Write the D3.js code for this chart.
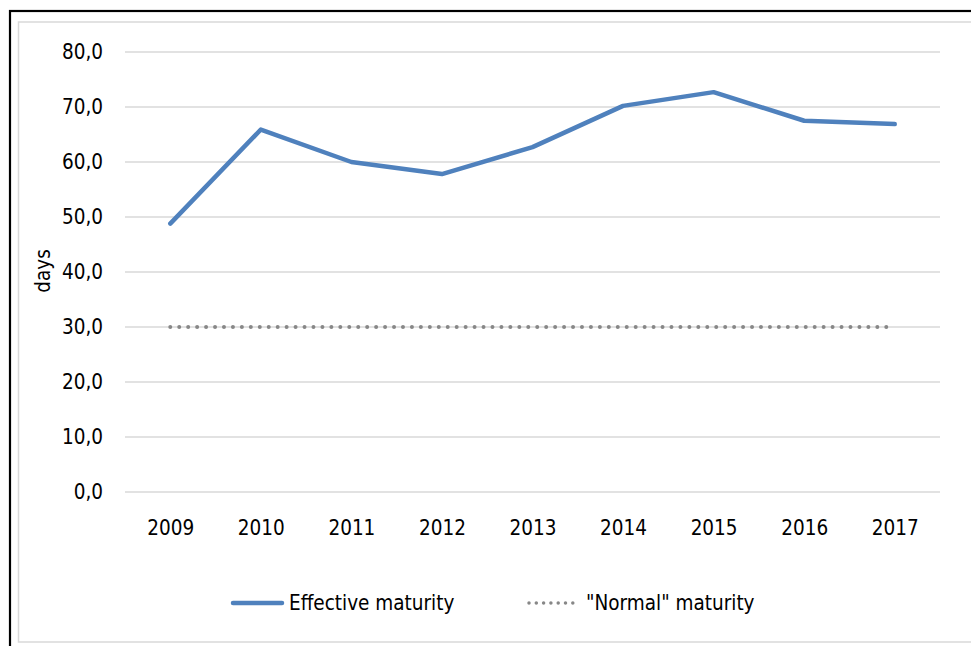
<!DOCTYPE html>
<html lang="en">
<head>
    <meta charset="UTF-8">
    <title>Effective maturity</title>
    <script src="https://cdn.jsdelivr.net/npm/d3@7"></script>
    <style>
        body { margin: 0; background: #fff; }
        svg text {
            font-family: "Liberation Sans Narrow", "DejaVu Sans Condensed", sans-serif;
            fill: #000;
        }
    </style>
</head>
<body>
    <svg id="chart" width="971" height="646"></svg>

    <script>
        // data
        const years = ['2009', '2010', '2011', '2012', '2013', '2014', '2015', '2016', '2017'];
        const effective = [48.8, 65.9, 60.0, 57.8, 62.7, 70.2, 72.7, 67.5, 66.9];
        const normal = [30, 30, 30, 30, 30, 30, 30, 30, 30];
        const yTicks = [0, 10, 20, 30, 40, 50, 60, 70, 80];

        const svg = d3.select('#chart');
        const fontSize = 20.5;

        // outer frames
        svg.append('rect')
            .attr('x', 10).attr('y', 11)
            .attr('width', 1000).attr('height', 1000)
            .attr('fill', 'none')
            .attr('stroke', '#000')
            .attr('stroke-width', 2.2);
        svg.append('rect')
            .attr('x', 18.5).attr('y', 22)
            .attr('width', 1000).attr('height', 620)
            .attr('fill', 'none')
            .attr('stroke', '#d9d9d9')
            .attr('stroke-width', 1.5);

        const x = d3.scalePoint()
            .domain(years)
            .range([125, 940])
            .padding(0.5);

        const y = d3.scaleLinear()
            .domain([0, 80])
            .range([492, 52]);

        // gridlines
        svg.append('g')
            .selectAll('line')
            .data(yTicks)
            .join('line')
            .attr('x1', 125).attr('x2', 940)
            .attr('y1', d => y(d)).attr('y2', d => y(d))
            .attr('stroke', '#d9d9d9')
            .attr('stroke-width', 1.5);

        // y axis labels
        const yAxis = svg.append('g')
            .attr('transform', 'translate(113,0)')
            .call(d3.axisLeft(y).tickValues(yTicks).tickSize(0).tickPadding(10)
                .tickFormat(d => d3.format('.1f')(d).replace('.', ',')));
        yAxis.select('.domain').remove();
        yAxis.selectAll('text')
            .style('font-size', fontSize + 'px')
            .attr('fill', '#000');

        // x axis labels
        const xAxis = svg.append('g')
            .attr('transform', 'translate(0,492)')
            .call(d3.axisBottom(x).tickSize(0).tickPadding(28));
        xAxis.select('.domain').remove();
        xAxis.selectAll('text')
            .style('font-size', fontSize + 'px')
            .attr('fill', '#000');

        // y axis title
        svg.append('text')
            .attr('transform', 'translate(43,271) rotate(-90)')
            .attr('text-anchor', 'middle')
            .attr('dy', '0.35em')
            .style('font-size', fontSize + 'px')
            .text('days');

        const line = d3.line()
            .x((d, i) => x(years[i]))
            .y(d => y(d));

        // "Normal" maturity
        svg.append('path')
            .datum(normal)
            .attr('d', line)
            .attr('fill', 'none')
            .attr('stroke', '#878787')
            .attr('stroke-width', 4)
            .attr('stroke-linecap', 'round')
            .attr('stroke-dasharray', '0 8.95');

        // Effective maturity
        svg.append('path')
            .datum(effective)
            .attr('d', line)
            .attr('fill', 'none')
            .attr('stroke', '#4f81bd')
            .attr('stroke-width', 4.5)
            .attr('stroke-linejoin', 'round')
            .attr('stroke-linecap', 'round');

        // legend
        const legend = svg.append('g').attr('transform', 'translate(0,603)');
        legend.append('line')
            .attr('x1', 233).attr('x2', 282)
            .attr('stroke', '#4f81bd')
            .attr('stroke-width', 4.5)
            .attr('stroke-linecap', 'round');
        legend.append('text')
            .attr('x', 289)
            .attr('dy', '0.35em')
            .style('font-size', fontSize + 'px')
            .text('Effective maturity');
        legend.append('line')
            .attr('x1', 529).attr('x2', 577)
            .attr('stroke', '#878787')
            .attr('stroke-width', 3.5)
            .attr('stroke-linecap', 'round')
            .attr('stroke-dasharray', '0 7.3');
        legend.append('text')
            .attr('x', 586)
            .attr('dy', '0.35em')
            .style('font-size', fontSize + 'px')
            .text('"Normal" maturity');
    </script>
</body>
</html>
